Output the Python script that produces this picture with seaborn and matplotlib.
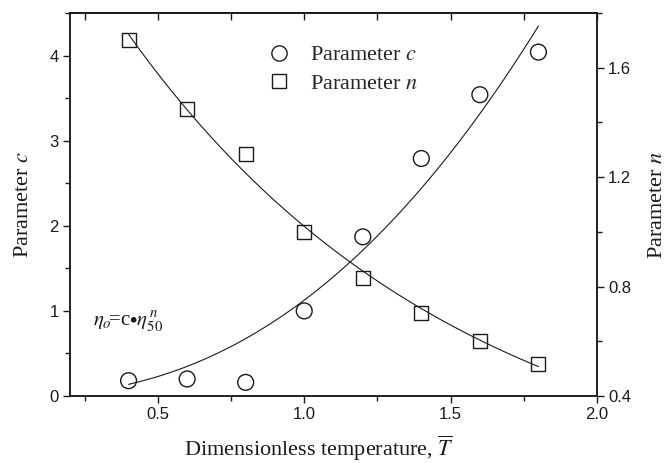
import numpy as np
import pandas as pd
import matplotlib
matplotlib.use("Agg")
import matplotlib.pyplot as plt
from matplotlib.ticker import MultipleLocator
from matplotlib.lines import Line2D
import seaborn as sns

# Measured parameters vs dimensionless temperature
temperature = [0.4, 0.6, 0.8, 1.0, 1.2, 1.4, 1.6, 1.8]
param_c = [0.18, 0.20, 0.16, 1.00, 1.87, 2.79, 3.54, 4.04]
param_n = [1.70, 1.448, 1.283, 1.001, 0.832, 0.704, 0.601, 0.517]

x_ticks = [0.5, 1.0, 1.5, 2.0]
c_ticks = [0, 1, 2, 3, 4]
n_ticks = [0.4, 0.8, 1.2, 1.6]

sns.set_theme(style="ticks")
plt.rcParams["font.family"] = ["Liberation Serif", "DejaVu Serif"]
plt.rcParams["mathtext.fontset"] = "stix"


def fit_power(x, y):
    """Least-squares fit of y = a * x**p, scanning p."""
    x = np.asarray(x, float)
    y = np.asarray(y, float)
    best = None
    for p in np.linspace(0.1, 5, 2451):
        f = x ** p
        a = np.dot(f, y) / np.dot(f, f)
        err = np.sum((a * f - y) ** 2)
        if best is None or err < best[0]:
            best = (err, a, p)
    _, a, p = best
    return lambda t: a * t ** p


def fit_exp(x, y):
    """Least-squares fit of y = a * exp(k*x), scanning k."""
    x = np.asarray(x, float)
    y = np.asarray(y, float)
    best = None
    for k in np.linspace(-4, 4, 3201):
        f = np.exp(k * x)
        a = np.dot(f, y) / np.dot(f, f)
        err = np.sum((a * f - y) ** 2)
        if best is None or err < best[0]:
            best = (err, a, k)
    _, a, k = best
    return lambda t: a * np.exp(k * t)


df = pd.DataFrame({"T": temperature, "c": param_c, "n": param_n})
t_fit = np.linspace(min(temperature), max(temperature), 200)
fit_df = pd.DataFrame({
    "T": t_fit,
    "c": fit_power(temperature, param_c)(t_fit),
    "n": fit_exp(temperature, param_n)(t_fit),
})

fig = plt.figure(figsize=(6.67, 4.63), dpi=100)
ax = fig.add_axes([0.105, 0.1447, 0.790, 0.8273])
ax2 = ax.twinx()

ink = "#1a1a1a"
sns.lineplot(data=fit_df, x="T", y="c", ax=ax, color=ink, lw=0.8)
sns.scatterplot(data=df, x="T", y="c", ax=ax, marker="o", s=130,
                facecolors="none", edgecolor=ink, linewidth=1.0, zorder=3)
sns.lineplot(data=fit_df, x="T", y="n", ax=ax2, color=ink, lw=0.8)
sns.scatterplot(data=df, x="T", y="n", ax=ax2, marker="s", s=100,
                facecolors="none", edgecolor=ink, linewidth=1.0, zorder=3)

ax.set_xlim(0.2, 2.0)
ax.set_ylim(0, 4.5)
ax2.set_ylim(0.4, 1.8)

ax.set_xticks(x_ticks)
ax.set_xticklabels([f"{v:.1f}" for v in x_ticks])
ax.xaxis.set_minor_locator(MultipleLocator(0.25))
ax.set_yticks(c_ticks)
ax.set_yticklabels([str(v) for v in c_ticks])
ax.yaxis.set_minor_locator(MultipleLocator(0.5))
ax2.set_yticks(n_ticks)
ax2.set_yticklabels([f"{v:.1f}" for v in n_ticks])
ax2.yaxis.set_minor_locator(MultipleLocator(0.2))

for a in (ax, ax2):
    for s in a.spines.values():
        s.set_visible(True)
        s.set_linewidth(1.1)
        s.set_color(ink)
    a.tick_params(which="major", length=5, width=1.0, color=ink,
                  labelsize=12, labelcolor=ink, pad=3)
    a.tick_params(which="minor", length=3.5, width=1.0, color=ink)

ax.tick_params(axis="x", which="both", direction="out", top=False)
ax.tick_params(axis="y", which="both", direction="out", right=False)
ax2.tick_params(axis="y", which="both", direction="out", left=False)

top = ax.secondary_xaxis("top")
top.set_xticks(x_ticks)
top.xaxis.set_minor_locator(MultipleLocator(0.25))
top.tick_params(which="both", direction="in", labeltop=False, length=5,
                width=1.0, color=ink)
top.spines["top"].set_linewidth(1.1)

for lab in ax.get_xticklabels() + ax.get_yticklabels() + ax2.get_yticklabels():
    lab.set_fontfamily(["Liberation Sans", "DejaVu Sans"])

ax.set_xlabel(r"Dimensionless temperature, $\overline{T}$", fontsize=16,
              color=ink)
ax.xaxis.set_label_coords(0.473, -0.097)
ax.set_ylabel(r"Parameter $c$", fontsize=16, color=ink, labelpad=12)
ax2.set_ylabel(r"Parameter $n$", fontsize=16, color=ink, labelpad=12)

ax.text(0.28, 0.87, r"$\eta_o\!$=c$\bullet\eta_{50}^{\,n}$", fontsize=15,
        color=ink, va="center", ha="left")

handles = [
    Line2D([], [], ls="none", marker="o", ms=11, mfc="none", mec=ink, mew=1.0),
    Line2D([], [], ls="none", marker="s", ms=10.5, mfc="none", mec=ink, mew=1.0),
]
ax2.legend(handles, [r"Parameter $c$", r"Parameter $n$"], loc="upper left",
           bbox_to_anchor=(0.334, 0.969), frameon=False, fontsize=16,
           handlelength=1.2, handletextpad=0.8, labelspacing=0.35,
           borderpad=0.4)

fig.savefig("out.png", dpi=100)
